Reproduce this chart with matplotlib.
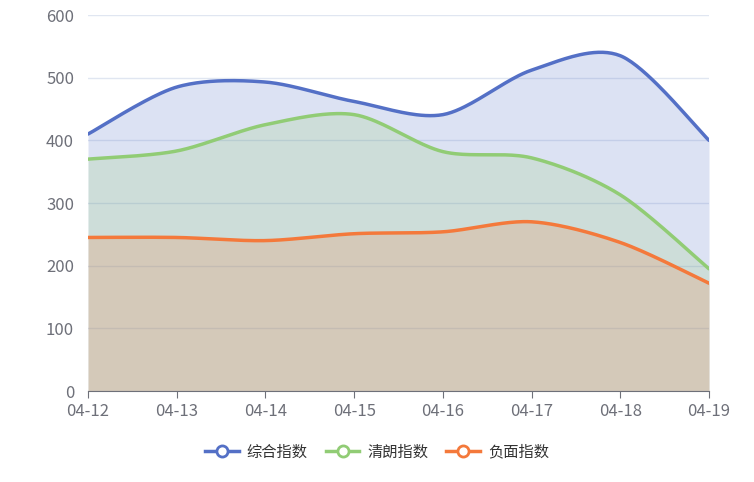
import numpy as np
import matplotlib.pyplot as plt
from matplotlib.lines import Line2D

plt.rcParams['font.family'] = ['Noto Sans CJK SC', 'DejaVu Sans']

dates = ['04-12', '04-13', '04-14', '04-15', '04-16', '04-17', '04-18', '04-19']
zonghe = [410, 485, 493, 462, 441, 512, 535, 400]
qinglang = [370, 383, 425, 441, 382, 372, 313, 195]
fumian = [245, 245, 240, 251, 254, 270, 237, 172]

names = ['综合指数', '清朗指数', '负面指数']
colors = ['#5470c6', '#91cc75', '#f4793b']


def smooth(xs, ys, k=0.3, n=40):
    # bezier through points, control points from neighbours (echarts-like)
    xs = np.asarray(xs, float); ys = np.asarray(ys, float)
    ox, oy = [], []
    m = len(xs)
    for i in range(m - 1):
        p0 = np.array([xs[max(i - 1, 0)], ys[max(i - 1, 0)]])
        p1 = np.array([xs[i], ys[i]])
        p2 = np.array([xs[i + 1], ys[i + 1]])
        p3 = np.array([xs[min(i + 2, m - 1)], ys[min(i + 2, m - 1)]])
        c1 = p1 + k * (p2 - p0) / 1.0 * 0.5
        c2 = p2 - k * (p3 - p1) / 1.0 * 0.5
        t = np.linspace(0, 1, n)[:, None]
        pts = ((1 - t) ** 3) * p1 + 3 * ((1 - t) ** 2) * t * c1 + 3 * (1 - t) * t ** 2 * c2 + t ** 3 * p2
        ox.extend(pts[:, 0]); oy.extend(pts[:, 1])
    return np.array(ox), np.array(oy)


fig = plt.figure(figsize=(7.54, 4.82), dpi=100)
ax = fig.add_axes([88 / 754, 1 - 391 / 482, (709 - 88) / 754, (391 - 15) / 482])

x = np.arange(len(dates))
for ys, c, nm in zip([zonghe, qinglang, fumian], colors, names):
    sx, sy = smooth(x, ys)
    ax.fill_between(sx, 0, sy, color=c, alpha=0.2, lw=0)
    ax.plot(sx, sy, color=c, lw=2.5, solid_capstyle='round')

ax.set_xlim(0, len(dates) - 1)
ax.set_ylim(0, 600)
ax.set_yticks(range(0, 601, 100))
ax.set_xticks(x)
ax.set_xticklabels(dates)
ax.grid(axis='y', color='#e0e6f1', lw=1)
ax.set_axisbelow(True)
for s in ['top', 'right', 'left']:
    ax.spines[s].set_visible(False)
ax.spines['bottom'].set_color('#6e7079')
ax.tick_params(axis='y', length=0, colors='#6e7079', labelsize=12, pad=10)
ax.tick_params(axis='x', length=5, color='#6e7079', colors='#6e7079', labelsize=12)

handles = [Line2D([0], [0], color=c, lw=2.5, marker='o', markersize=8,
                  markerfacecolor='white', markeredgewidth=2) for c in colors]
fig.legend(handles, names, loc='center', bbox_to_anchor=(0.5, 1 - 452 / 482), ncol=3,
           frameon=False, fontsize=11, labelcolor='#333333', handlelength=2.2,
           columnspacing=1.2, handletextpad=0.5)

fig.savefig('out.png', dpi=100)
